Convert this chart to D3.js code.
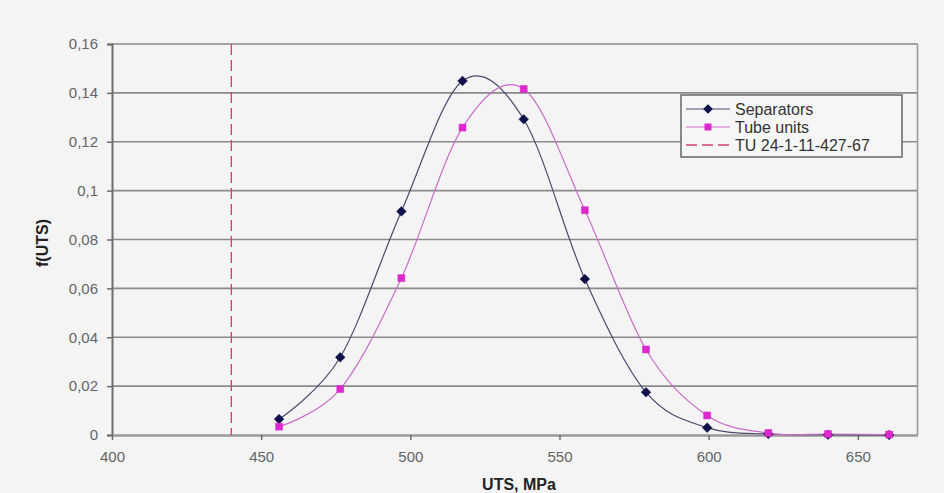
<!DOCTYPE html>
<html>
<head>
<meta charset="utf-8">
<script src="https://cdn.jsdelivr.net/npm/d3@7"></script>
<style>
  html, body { margin: 0; padding: 0; background: #f4f4f4; }
  svg { display: block; }
  text { font-family: "Liberation Sans", Arial, sans-serif; }
</style>
</head>
<body>
<svg id="chart" width="944" height="493"></svg>
<script>
// ---- data ----
const utsBins = [456, 476.5, 497, 517.5, 538, 558.5, 579, 599.5, 620, 640, 660.5];
const separators = [0.0065, 0.0318, 0.0915, 0.1449, 0.1292, 0.0638, 0.0175, 0.003, 0.0004, 0.0001, 0.0];
const tubeUnits  = [0.0034, 0.0188, 0.0642, 0.1258, 0.1416, 0.092, 0.035, 0.008, 0.0008, 0.0004, 0.0002];
const tuLimit = 440;
const xTicks = [400, 450, 500, 550, 600, 650];
const xTickLabels = ["400", "450", "500", "550", "600", "650"];
const yTicks = [0, 0.02, 0.04, 0.06, 0.08, 0.1, 0.12, 0.14, 0.16];
const yTickLabels = ["0", "0,02", "0,04", "0,06", "0,08", "0,1", "0,12", "0,14", "0,16"];
const seriesNames = ["Separators", "Tube units", "TU 24-1-11-427-67"];
const xTitle = "UTS, MPa";
const yTitle = "f(UTS)";

// ---- layout ----
const svg = d3.select("#chart");
const L = 112, R = 917.5, T = 44, B = 435;
const x = d3.scaleLinear().domain([400, 670]).range([L, R]);
const y = d3.scaleLinear().domain([0, 0.16]).range([B, T]);

svg.append("rect").attr("width", 944).attr("height", 493).attr("fill", "#f4f4f4");

// gridlines
svg.append("g").selectAll("line").data(yTicks.filter(d => d > 0)).join("line")
  .attr("x1", L).attr("x2", R).attr("y1", d => y(d)).attr("y2", d => y(d))
  .attr("stroke", "#8a8a8a").attr("stroke-width", 1.6);

// plot border right
svg.append("line").attr("x1", R).attr("x2", R).attr("y1", T).attr("y2", B)
  .attr("stroke", "#999").attr("stroke-width", 1.6);

// y axis
const yAxis = d3.axisLeft(y).tickValues(yTicks).tickFormat((d, i) => yTickLabels[i]).tickSize(5).tickPadding(9);
const gy = svg.append("g").attr("transform", `translate(${L},0)`).call(yAxis);
gy.select(".domain").attr("stroke", "#6e6e6e").attr("stroke-width", 2);
gy.selectAll(".tick line").attr("stroke", "#6e6e6e").attr("stroke-width", 1.5);
gy.selectAll(".tick text").attr("fill", "#646464").style("font-size", "15px")
  .style("font-family", "'Liberation Sans', Arial, sans-serif");

// x axis
const xAxis = d3.axisBottom(x).tickValues(xTicks).tickFormat((d, i) => xTickLabels[i]).tickSize(5).tickSizeOuter(0).tickPadding(11);
const gx = svg.append("g").attr("transform", `translate(0,${B})`).call(xAxis);
gx.select(".domain").attr("stroke", "#999").attr("stroke-width", 2.5);
gx.selectAll(".tick line").attr("stroke", "#6e6e6e").attr("stroke-width", 1.5);
gx.selectAll(".tick text").attr("fill", "#646464").style("font-size", "15px")
  .style("font-family", "'Liberation Sans', Arial, sans-serif");

// TU limit line
svg.append("line").attr("x1", x(tuLimit)).attr("x2", x(tuLimit)).attr("y1", T).attr("y2", B)
  .attr("stroke", "#d2406a").attr("stroke-width", 1.3).attr("stroke-dasharray", "11,5");

// curves
const curve = d3.curveCardinal.tension(0);
const line = d3.line().x(d => x(d[0])).y(d => y(d[1])).curve(curve);
const sepPts = utsBins.map((u, i) => [u, separators[i]]);
const tubePts = utsBins.map((u, i) => [u, tubeUnits[i]]);

svg.append("path").datum(sepPts).attr("d", line).attr("fill", "none")
  .attr("stroke", "#4a4a6e").attr("stroke-width", 1.2);
svg.append("path").datum(tubePts).attr("d", line).attr("fill", "none")
  .attr("stroke", "#c86ec8").attr("stroke-width", 1.2);

const diamond = d3.symbol().type(d3.symbolDiamond2).size(60);
const square = d3.symbol().type(d3.symbolSquare2).size(62);

svg.append("g").selectAll("path").data(sepPts).join("path")
  .attr("d", diamond).attr("transform", d => `translate(${x(d[0])},${y(d[1])})`)
  .attr("fill", "#10104a").attr("stroke", "#10104a").attr("stroke-width", 0.5);
svg.append("g").selectAll("path").data(tubePts).join("path")
  .attr("d", square).attr("transform", d => `translate(${x(d[0])},${y(d[1])})`)
  .attr("fill", "#dc28cc").attr("stroke", "#dc28cc").attr("stroke-width", 0.5);

// axis titles
svg.append("text").attr("x", 519).attr("y", 490).attr("text-anchor", "middle")
  .style("font-size", "16px").style("font-weight", "bold").attr("fill", "#222").text(xTitle);
svg.append("text").attr("transform", "translate(48,243) rotate(-90)").attr("text-anchor", "middle")
  .style("font-size", "16px").style("font-weight", "bold").attr("fill", "#222").text(yTitle);

// legend
const lg = svg.append("g");
lg.append("rect").attr("x", 681).attr("y", 95).attr("width", 221).attr("height", 62)
  .attr("fill", "#f6f6f6").attr("stroke", "#666").attr("stroke-width", 1.5);
const rowY = [109, 127, 145];
const sx1 = 686, sx2 = 730, sxm = 708;
// separators
lg.append("line").attr("x1", sx1).attr("x2", sx2).attr("y1", rowY[0]).attr("y2", rowY[0])
  .attr("stroke", "#4a4a6e").attr("stroke-width", 1.2);
lg.append("path").attr("d", diamond).attr("transform", `translate(${sxm},${rowY[0]})`).attr("fill", "#10104a");
// tube units
lg.append("line").attr("x1", sx1).attr("x2", sx2).attr("y1", rowY[1]).attr("y2", rowY[1])
  .attr("stroke", "#c86ec8").attr("stroke-width", 1.2);
lg.append("path").attr("d", square).attr("transform", `translate(${sxm},${rowY[1]})`).attr("fill", "#dc28cc");
// TU
lg.append("line").attr("x1", sx1).attr("x2", sx2).attr("y1", rowY[2]).attr("y2", rowY[2])
  .attr("stroke", "#d2406a").attr("stroke-width", 1.3).attr("stroke-dasharray", "11,5");
lg.selectAll("text.lt").data(seriesNames).join("text").attr("class", "lt")
  .attr("x", 735).attr("y", (d, i) => rowY[i] + 5.5)
  .style("font-size", "16px").attr("fill", "#333").text(d => d);
</script>
</body>
</html>
